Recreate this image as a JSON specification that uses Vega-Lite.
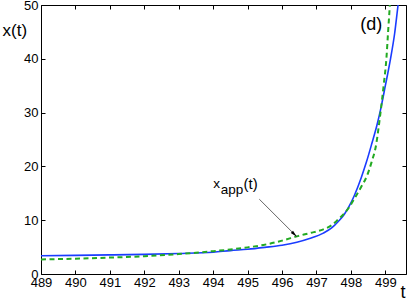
{
  "$schema": "https://vega.github.io/schema/vega-lite/v6.json",
  "width": 365,
  "height": 269,
  "autosize": {"type": "none"},
  "padding": {"left": 41, "top": 5, "right": 3, "bottom": 26},
  "background": "white",
  "config": {
    "view": {"stroke": null},
    "font": "Liberation Sans",
    "axis": {
      "domainColor": "black",
      "domainWidth": 1,
      "tickColor": "black",
      "tickSize": -4,
      "tickWidth": 1,
      "grid": false,
      "labelOverlap": false,
      "labelFont": "Liberation Sans",
      "labelFontSize": 13,
      "labelColor": "black",
      "titleFont": "Liberation Sans",
      "titleFontWeight": "normal",
      "titleColor": "black"
    }
  },
  "datasets": {
    "curves": [
      {"t": 489, "x": 3.4, "s": "x"},
      {"t": 490, "x": 3.47, "s": "x"},
      {"t": 491, "x": 3.55, "s": "x"},
      {"t": 492, "x": 3.65, "s": "x"},
      {"t": 493, "x": 3.8, "s": "x"},
      {"t": 494, "x": 4.05, "s": "x"},
      {"t": 494.5, "x": 4.35, "s": "x"},
      {"t": 495, "x": 4.6, "s": "x"},
      {"t": 495.5, "x": 4.95, "s": "x"},
      {"t": 496, "x": 5.35, "s": "x"},
      {"t": 496.43, "x": 5.9, "s": "x"},
      {"t": 496.8, "x": 6.6, "s": "x"},
      {"t": 497.2, "x": 7.6, "s": "x"},
      {"t": 497.45, "x": 8.6, "s": "x"},
      {"t": 497.64, "x": 9.8, "s": "x"},
      {"t": 497.8, "x": 11.0, "s": "x"},
      {"t": 497.95, "x": 12.6, "s": "x"},
      {"t": 498.1, "x": 14.6, "s": "x"},
      {"t": 498.3, "x": 17.9, "s": "x"},
      {"t": 498.45, "x": 20.8, "s": "x"},
      {"t": 498.61, "x": 24.3, "s": "x"},
      {"t": 498.75, "x": 27.5, "s": "x"},
      {"t": 498.86, "x": 30.5, "s": "x"},
      {"t": 499.0, "x": 35.0, "s": "x"},
      {"t": 499.15, "x": 40.0, "s": "x"},
      {"t": 499.27, "x": 44.7, "s": "x"},
      {"t": 499.37, "x": 50.0, "s": "x"},
      {"t": 499.45, "x": 54.0, "s": "x"},
      {"t": 489, "x": 2.7, "s": "xapp"},
      {"t": 490, "x": 2.85, "s": "xapp"},
      {"t": 491, "x": 3.05, "s": "xapp"},
      {"t": 492, "x": 3.3, "s": "xapp"},
      {"t": 493, "x": 3.7, "s": "xapp"},
      {"t": 493.5, "x": 3.95, "s": "xapp"},
      {"t": 494, "x": 4.25, "s": "xapp"},
      {"t": 494.5, "x": 4.55, "s": "xapp"},
      {"t": 495, "x": 4.95, "s": "xapp"},
      {"t": 495.46, "x": 5.4, "s": "xapp"},
      {"t": 496, "x": 6.2, "s": "xapp"},
      {"t": 496.43, "x": 7.0, "s": "xapp"},
      {"t": 496.8, "x": 7.6, "s": "xapp"},
      {"t": 497.2, "x": 8.3, "s": "xapp"},
      {"t": 497.45, "x": 9.1, "s": "xapp"},
      {"t": 497.64, "x": 10.2, "s": "xapp"},
      {"t": 497.8, "x": 11.2, "s": "xapp"},
      {"t": 497.95, "x": 12.4, "s": "xapp"},
      {"t": 498.1, "x": 14.0, "s": "xapp"},
      {"t": 498.3, "x": 16.2, "s": "xapp"},
      {"t": 498.47, "x": 18.3, "s": "xapp"},
      {"t": 498.6, "x": 20.8, "s": "xapp"},
      {"t": 498.74, "x": 24.3, "s": "xapp"},
      {"t": 498.8, "x": 27.0, "s": "xapp"},
      {"t": 498.86, "x": 30.0, "s": "xapp"},
      {"t": 498.95, "x": 35.0, "s": "xapp"},
      {"t": 499.03, "x": 40.0, "s": "xapp"},
      {"t": 499.08, "x": 45.0, "s": "xapp"},
      {"t": 499.13, "x": 50.0, "s": "xapp"},
      {"t": 499.18, "x": 56.0, "s": "xapp"}
    ],
    "arrow": [
      {"t": 495.34, "v": 13.9, "t2": 496.43, "v2": 6.93}
    ],
    "labels": [
      {"t": 494.0, "v": 16.05, "label": "x"},
      {"t": 494.22, "v": 14.9, "label": "app"}
    ],
    "paren": [
      {"t": 494.88, "v": 15.8, "label": "(t)"}
    ],
    "panel": [
      {"t": 498.27, "v": 45.4, "label": "(d)"}
    ]
  },
  "layer": [
    {
      "layer": [
        {
          "data": {"name": "curves"},
          "transform": [{"filter": "datum.s === 'x'"}],
          "mark": {"type": "line", "color": "#1a3cff", "strokeWidth": 1.6, "clip": true, "interpolate": "monotone"},
          "encoding": {
            "x": {
              "field": "t", "type": "quantitative",
              "scale": {"domain": [489, 499.6], "nice": false, "zero": false},
              "axis": {
                "values": [489, 490, 491, 492, 493, 494, 495, 496, 497, 498, 499],
                "tickCount": 11,
                "format": "d",
                "labelOverlap": false,
                "labelFlush": false,
                "labelPadding": 6,
                "title": "t",
                "titleFontSize": 18,
                "titleX": 359,
                "titleY": 23,
                "titleAlign": "left",
                "titleBaseline": "alphabetic",
                "titleAnchor": null
              }
            },
            "y": {
              "field": "x", "type": "quantitative",
              "scale": {"domain": [0, 50], "nice": false, "zero": false},
              "axis": {
                "values": [0, 10, 20, 30, 40, 50],
                "tickCount": 6,
                "format": "d",
                "labelOverlap": false,
                "labelFlush": false,
                "labelPadding": 7,
                "title": "x(t)",
                "titleFontSize": 17,
                "titleAngle": 0,
                "titleX": -39,
                "titleY": 30,
                "titleAlign": "left",
                "titleBaseline": "alphabetic",
                "titleAnchor": null
              }
            }
          }
        },
        {
          "data": {"name": "curves"},
          "transform": [{"filter": "datum.s === 'xapp'"}],
          "mark": {"type": "line", "color": "#22aa22", "strokeWidth": 2, "strokeDash": [5, 3.5], "clip": true, "interpolate": "monotone"},
          "encoding": {
            "x": {"field": "t", "type": "quantitative"},
            "y": {"field": "x", "type": "quantitative"}
          }
        },
        {
          "data": {"name": "arrow"},
          "mark": {"type": "rule", "color": "#555555", "strokeWidth": 0.9},
          "encoding": {
            "x": {"field": "t", "type": "quantitative"},
            "y": {"field": "v", "type": "quantitative"},
            "x2": {"field": "t2"},
            "y2": {"field": "v2"}
          }
        },
        {
          "data": {"name": "arrow"},
          "mark": {"type": "point", "shape": "M0,0L0.45,2L-0.45,2Z", "filled": true, "color": "black", "opacity": 1, "size": 49, "angle": 135},
          "encoding": {
            "x": {"field": "t2", "type": "quantitative"},
            "y": {"field": "v2", "type": "quantitative"}
          }
        },
        {
          "data": {"name": "labels"},
          "mark": {"type": "text", "align": "left", "baseline": "alphabetic", "fontSize": 13.5, "color": "black", "font": "Liberation Sans"},
          "encoding": {
            "x": {"field": "t", "type": "quantitative"},
            "y": {"field": "v", "type": "quantitative"},
            "text": {"field": "label"}
          }
        },
        {
          "data": {"name": "paren"},
          "mark": {"type": "text", "align": "left", "baseline": "alphabetic", "fontSize": 15, "color": "black", "font": "Liberation Sans"},
          "encoding": {
            "x": {"field": "t", "type": "quantitative"},
            "y": {"field": "v", "type": "quantitative"},
            "text": {"field": "label"}
          }
        },
        {
          "data": {"name": "panel"},
          "mark": {"type": "text", "align": "left", "baseline": "alphabetic", "fontSize": 18, "color": "black", "font": "Liberation Sans"},
          "encoding": {
            "x": {"field": "t", "type": "quantitative"},
            "y": {"field": "v", "type": "quantitative"},
            "text": {"field": "label"}
          }
        }
      ]
    },
    {
      "data": {"name": "panel"},
      "mark": {"type": "point", "opacity": 0},
      "encoding": {
        "x": {
          "field": "t", "type": "quantitative",
          "scale": {"domain": [489, 499.6], "nice": false, "zero": false},
          "axis": {"orient": "top", "labels": false, "title": null, "tickCount": 11, "values": [489, 490, 491, 492, 493, 494, 495, 496, 497, 498, 499]}
        },
        "y": {
          "field": "v", "type": "quantitative",
          "scale": {"domain": [0, 50], "nice": false, "zero": false},
          "axis": {"orient": "right", "labels": false, "title": null, "tickCount": 6, "values": [0, 10, 20, 30, 40, 50]}
        }
      }
    }
  ],
  "resolve": {
    "scale": {"x": "independent", "y": "independent"},
    "axis": {"x": "independent", "y": "independent"}
  }
}
